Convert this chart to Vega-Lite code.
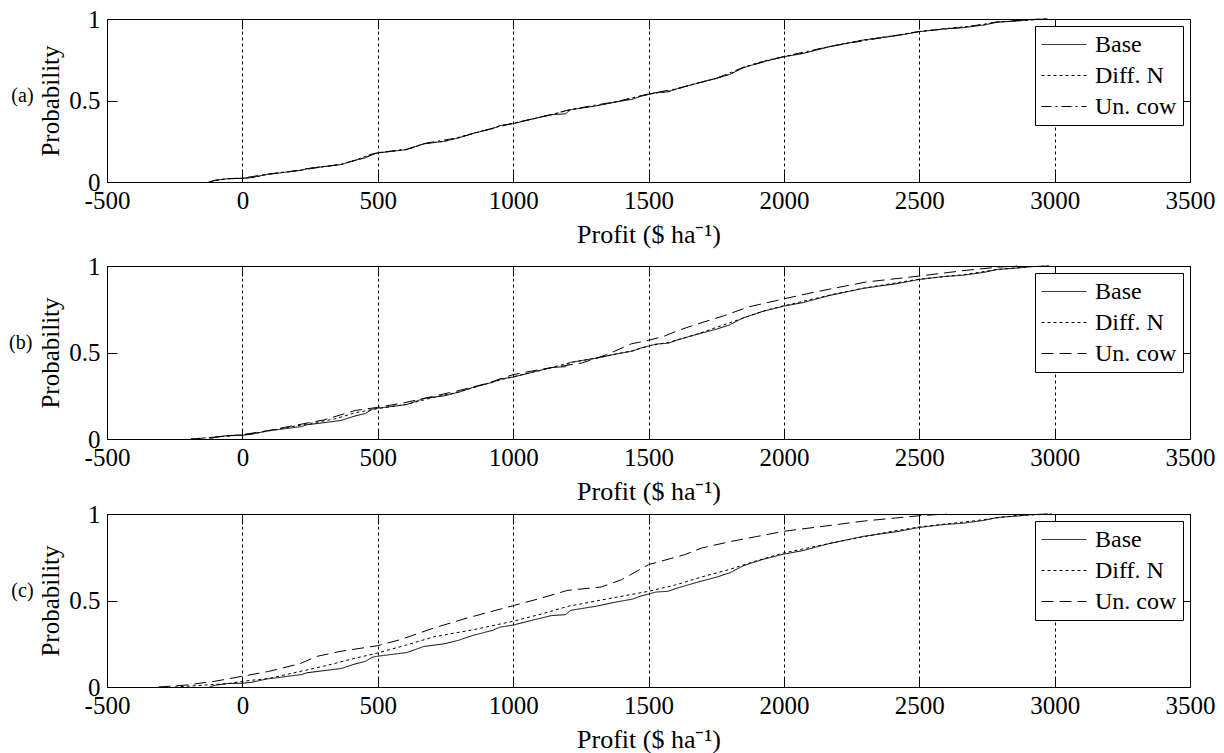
{
  "$schema": "https://vega.github.io/schema/vega-lite/v6.json",
  "background": "white",
  "padding": {"left": 8, "top": 6, "right": 10, "bottom": 0},
  "config": {
    "font": "Liberation Serif",
    "view": {"stroke": "black", "strokeWidth": 1},
    "axis": {"labelFont": "Liberation Serif", "titleFont": "Liberation Serif", "labelFontSize": 25, "titleFontSize": 25, "titleFontWeight": "normal", "labelColor": "black", "titleColor": "black", "domainColor": "black", "tickColor": "black", "tickWidth": 1, "domainWidth": 1, "labelFlush": false, "labelOverlap": false, "grid": false},
    "axisX": {"titleFontSize": 26},
    "legend": {"orient": "top-right", "offset": 7, "padding": 6, "strokeColor": "black", "fillColor": "white", "labelFont": "Liberation Serif", "labelFontSize": 24, "labelColor": "black", "symbolType": "stroke", "symbolSize": 2025, "symbolStrokeWidth": 1, "symbolStrokeColor": "black", "labelOffset": 8, "rowPadding": 6, "clipHeight": 25, "cornerRadius": 0},
    "title": {"font": "Liberation Serif", "fontWeight": "normal", "color": "black"}
  },
  "datasets": {
    "a": [
      {"s":"Base","x":-122,"y":0},{"s":"Base","x":-100,"y":0.01},{"s":"Base","x":-55,"y":0.02},{"s":"Base","x":0,"y":0.022},{"s":"Base","x":34,"y":0.027},{"s":"Base","x":92,"y":0.047},{"s":"Base","x":111,"y":0.05},{"s":"Base","x":219,"y":0.072},{"s":"Base","x":238,"y":0.082},{"s":"Base","x":365,"y":0.107},{"s":"Base","x":416,"y":0.133},{"s":"Base","x":454,"y":0.148},{"s":"Base","x":480,"y":0.172},{"s":"Base","x":500,"y":0.178},{"s":"Base","x":607,"y":0.199},{"s":"Base","x":670,"y":0.234},{"s":"Base","x":747,"y":0.25},{"s":"Base","x":798,"y":0.27},{"s":"Base","x":849,"y":0.297},{"s":"Base","x":925,"y":0.328},{"s":"Base","x":951,"y":0.346},{"s":"Base","x":1000,"y":0.358},{"s":"Base","x":1079,"y":0.389},{"s":"Base","x":1142,"y":0.413},{"s":"Base","x":1193,"y":0.418},{"s":"Base","x":1212,"y":0.443},{"s":"Base","x":1307,"y":0.467},{"s":"Base","x":1383,"y":0.492},{"s":"Base","x":1441,"y":0.508},{"s":"Base","x":1470,"y":0.525},{"s":"Base","x":1500,"y":0.537},{"s":"Base","x":1528,"y":0.549},{"s":"Base","x":1572,"y":0.553},{"s":"Base","x":1602,"y":0.57},{"s":"Base","x":1677,"y":0.604},{"s":"Base","x":1751,"y":0.635},{"s":"Base","x":1800,"y":0.66},{"s":"Base","x":1849,"y":0.7},{"s":"Base","x":1923,"y":0.738},{"s":"Base","x":2000,"y":0.768},{"s":"Base","x":2072,"y":0.789},{"s":"Base","x":2170,"y":0.83},{"s":"Base","x":2294,"y":0.871},{"s":"Base","x":2417,"y":0.898},{"s":"Base","x":2500,"y":0.922},{"s":"Base","x":2590,"y":0.939},{"s":"Base","x":2664,"y":0.947},{"s":"Base","x":2738,"y":0.963},{"s":"Base","x":2788,"y":0.98},{"s":"Base","x":2862,"y":0.988},{"s":"Base","x":2911,"y":0.996},{"s":"Base","x":2975,"y":1},
      {"s":"Diff. N","x":-120,"y":0},{"s":"Diff. N","x":-95,"y":0.01},{"s":"Diff. N","x":-50,"y":0.02},{"s":"Diff. N","x":0,"y":0.023},{"s":"Diff. N","x":40,"y":0.028},{"s":"Diff. N","x":95,"y":0.048},{"s":"Diff. N","x":220,"y":0.073},{"s":"Diff. N","x":240,"y":0.083},{"s":"Diff. N","x":365,"y":0.108},{"s":"Diff. N","x":418,"y":0.134},{"s":"Diff. N","x":480,"y":0.173},{"s":"Diff. N","x":500,"y":0.179},{"s":"Diff. N","x":610,"y":0.2},{"s":"Diff. N","x":672,"y":0.235},{"s":"Diff. N","x":750,"y":0.251},{"s":"Diff. N","x":850,"y":0.298},{"s":"Diff. N","x":925,"y":0.33},{"s":"Diff. N","x":955,"y":0.347},{"s":"Diff. N","x":1000,"y":0.36},{"s":"Diff. N","x":1080,"y":0.39},{"s":"Diff. N","x":1145,"y":0.414},{"s":"Diff. N","x":1212,"y":0.444},{"s":"Diff. N","x":1307,"y":0.468},{"s":"Diff. N","x":1385,"y":0.493},{"s":"Diff. N","x":1470,"y":0.527},{"s":"Diff. N","x":1500,"y":0.539},{"s":"Diff. N","x":1572,"y":0.555},{"s":"Diff. N","x":1677,"y":0.606},{"s":"Diff. N","x":1751,"y":0.637},{"s":"Diff. N","x":1800,"y":0.662},{"s":"Diff. N","x":1849,"y":0.703},{"s":"Diff. N","x":1923,"y":0.741},{"s":"Diff. N","x":2000,"y":0.77},{"s":"Diff. N","x":2072,"y":0.791},{"s":"Diff. N","x":2170,"y":0.832},{"s":"Diff. N","x":2294,"y":0.872},{"s":"Diff. N","x":2417,"y":0.9},{"s":"Diff. N","x":2500,"y":0.923},{"s":"Diff. N","x":2590,"y":0.94},{"s":"Diff. N","x":2738,"y":0.964},{"s":"Diff. N","x":2788,"y":0.981},{"s":"Diff. N","x":2862,"y":0.989},{"s":"Diff. N","x":2975,"y":1},
      {"s":"Un. cow","x":-125,"y":0},{"s":"Un. cow","x":-100,"y":0.011},{"s":"Un. cow","x":-55,"y":0.021},{"s":"Un. cow","x":0,"y":0.024},{"s":"Un. cow","x":92,"y":0.048},{"s":"Un. cow","x":219,"y":0.074},{"s":"Un. cow","x":365,"y":0.109},{"s":"Un. cow","x":454,"y":0.15},{"s":"Un. cow","x":500,"y":0.18},{"s":"Un. cow","x":607,"y":0.201},{"s":"Un. cow","x":670,"y":0.236},{"s":"Un. cow","x":798,"y":0.272},{"s":"Un. cow","x":925,"y":0.33},{"s":"Un. cow","x":1000,"y":0.36},{"s":"Un. cow","x":1142,"y":0.415},{"s":"Un. cow","x":1212,"y":0.445},{"s":"Un. cow","x":1383,"y":0.494},{"s":"Un. cow","x":1500,"y":0.54},{"s":"Un. cow","x":1602,"y":0.572},{"s":"Un. cow","x":1751,"y":0.637},{"s":"Un. cow","x":1849,"y":0.702},{"s":"Un. cow","x":2000,"y":0.77},{"s":"Un. cow","x":2170,"y":0.832},{"s":"Un. cow","x":2417,"y":0.9},{"s":"Un. cow","x":2500,"y":0.924},{"s":"Un. cow","x":2664,"y":0.949},{"s":"Un. cow","x":2788,"y":0.982},{"s":"Un. cow","x":2911,"y":0.997},{"s":"Un. cow","x":2970,"y":1}
    ],
    "b": [
      {"s":"Base","x":-122,"y":0},{"s":"Base","x":-100,"y":0.01},{"s":"Base","x":-55,"y":0.02},{"s":"Base","x":0,"y":0.022},{"s":"Base","x":34,"y":0.027},{"s":"Base","x":92,"y":0.047},{"s":"Base","x":111,"y":0.05},{"s":"Base","x":219,"y":0.072},{"s":"Base","x":238,"y":0.082},{"s":"Base","x":365,"y":0.107},{"s":"Base","x":416,"y":0.133},{"s":"Base","x":454,"y":0.148},{"s":"Base","x":480,"y":0.172},{"s":"Base","x":500,"y":0.178},{"s":"Base","x":607,"y":0.199},{"s":"Base","x":670,"y":0.234},{"s":"Base","x":747,"y":0.25},{"s":"Base","x":798,"y":0.27},{"s":"Base","x":849,"y":0.297},{"s":"Base","x":925,"y":0.328},{"s":"Base","x":951,"y":0.346},{"s":"Base","x":1000,"y":0.358},{"s":"Base","x":1079,"y":0.389},{"s":"Base","x":1142,"y":0.413},{"s":"Base","x":1193,"y":0.418},{"s":"Base","x":1212,"y":0.443},{"s":"Base","x":1307,"y":0.467},{"s":"Base","x":1383,"y":0.492},{"s":"Base","x":1441,"y":0.508},{"s":"Base","x":1470,"y":0.525},{"s":"Base","x":1500,"y":0.537},{"s":"Base","x":1528,"y":0.549},{"s":"Base","x":1572,"y":0.553},{"s":"Base","x":1602,"y":0.57},{"s":"Base","x":1677,"y":0.604},{"s":"Base","x":1751,"y":0.635},{"s":"Base","x":1800,"y":0.66},{"s":"Base","x":1849,"y":0.7},{"s":"Base","x":1923,"y":0.738},{"s":"Base","x":2000,"y":0.768},{"s":"Base","x":2072,"y":0.789},{"s":"Base","x":2170,"y":0.83},{"s":"Base","x":2294,"y":0.871},{"s":"Base","x":2417,"y":0.898},{"s":"Base","x":2500,"y":0.922},{"s":"Base","x":2590,"y":0.939},{"s":"Base","x":2664,"y":0.947},{"s":"Base","x":2738,"y":0.963},{"s":"Base","x":2788,"y":0.98},{"s":"Base","x":2862,"y":0.988},{"s":"Base","x":2911,"y":0.996},{"s":"Base","x":2975,"y":1},
      {"s":"Diff. N","x":-190,"y":0},{"s":"Diff. N","x":-140,"y":0.006},{"s":"Diff. N","x":-80,"y":0.014},{"s":"Diff. N","x":0,"y":0.023},{"s":"Diff. N","x":73,"y":0.04},{"s":"Diff. N","x":136,"y":0.058},{"s":"Diff. N","x":239,"y":0.087},{"s":"Diff. N","x":341,"y":0.116},{"s":"Diff. N","x":417,"y":0.152},{"s":"Diff. N","x":500,"y":0.176},{"s":"Diff. N","x":607,"y":0.2},{"s":"Diff. N","x":700,"y":0.238},{"s":"Diff. N","x":800,"y":0.272},{"s":"Diff. N","x":925,"y":0.33},{"s":"Diff. N","x":1000,"y":0.36},{"s":"Diff. N","x":1100,"y":0.396},{"s":"Diff. N","x":1212,"y":0.442},{"s":"Diff. N","x":1307,"y":0.468},{"s":"Diff. N","x":1441,"y":0.51},{"s":"Diff. N","x":1500,"y":0.538},{"s":"Diff. N","x":1578,"y":0.56},{"s":"Diff. N","x":1683,"y":0.608},{"s":"Diff. N","x":1800,"y":0.672},{"s":"Diff. N","x":1931,"y":0.743},{"s":"Diff. N","x":2000,"y":0.77},{"s":"Diff. N","x":2170,"y":0.832},{"s":"Diff. N","x":2294,"y":0.872},{"s":"Diff. N","x":2500,"y":0.924},{"s":"Diff. N","x":2664,"y":0.95},{"s":"Diff. N","x":2788,"y":0.98},{"s":"Diff. N","x":2911,"y":0.996},{"s":"Diff. N","x":2980,"y":1},
      {"s":"Un. cow","x":-190,"y":0},{"s":"Un. cow","x":-120,"y":0.008},{"s":"Un. cow","x":-50,"y":0.018},{"s":"Un. cow","x":0,"y":0.025},{"s":"Un. cow","x":100,"y":0.05},{"s":"Un. cow","x":188,"y":0.077},{"s":"Un. cow","x":300,"y":0.11},{"s":"Un. cow","x":417,"y":0.165},{"s":"Un. cow","x":500,"y":0.183},{"s":"Un. cow","x":600,"y":0.21},{"s":"Un. cow","x":700,"y":0.245},{"s":"Un. cow","x":800,"y":0.28},{"s":"Un. cow","x":900,"y":0.32},{"s":"Un. cow","x":1000,"y":0.372},{"s":"Un. cow","x":1100,"y":0.402},{"s":"Un. cow","x":1255,"y":0.44},{"s":"Un. cow","x":1350,"y":0.49},{"s":"Un. cow","x":1436,"y":0.55},{"s":"Un. cow","x":1500,"y":0.57},{"s":"Un. cow","x":1559,"y":0.595},{"s":"Un. cow","x":1609,"y":0.627},{"s":"Un. cow","x":1683,"y":0.666},{"s":"Un. cow","x":1782,"y":0.714},{"s":"Un. cow","x":1868,"y":0.763},{"s":"Un. cow","x":2000,"y":0.81},{"s":"Un. cow","x":2116,"y":0.85},{"s":"Un. cow","x":2302,"y":0.907},{"s":"Un. cow","x":2500,"y":0.942},{"s":"Un. cow","x":2673,"y":0.975},{"s":"Un. cow","x":2797,"y":0.994},{"s":"Un. cow","x":2860,"y":1}
    ],
    "c": [
      {"s":"Base","x":-122,"y":0},{"s":"Base","x":-100,"y":0.01},{"s":"Base","x":-55,"y":0.02},{"s":"Base","x":0,"y":0.022},{"s":"Base","x":34,"y":0.027},{"s":"Base","x":92,"y":0.047},{"s":"Base","x":111,"y":0.05},{"s":"Base","x":219,"y":0.072},{"s":"Base","x":238,"y":0.082},{"s":"Base","x":365,"y":0.107},{"s":"Base","x":416,"y":0.133},{"s":"Base","x":454,"y":0.148},{"s":"Base","x":480,"y":0.172},{"s":"Base","x":500,"y":0.178},{"s":"Base","x":607,"y":0.199},{"s":"Base","x":670,"y":0.234},{"s":"Base","x":747,"y":0.25},{"s":"Base","x":798,"y":0.27},{"s":"Base","x":849,"y":0.297},{"s":"Base","x":925,"y":0.328},{"s":"Base","x":951,"y":0.346},{"s":"Base","x":1000,"y":0.358},{"s":"Base","x":1079,"y":0.389},{"s":"Base","x":1142,"y":0.413},{"s":"Base","x":1193,"y":0.418},{"s":"Base","x":1212,"y":0.443},{"s":"Base","x":1307,"y":0.467},{"s":"Base","x":1383,"y":0.492},{"s":"Base","x":1441,"y":0.508},{"s":"Base","x":1470,"y":0.525},{"s":"Base","x":1500,"y":0.537},{"s":"Base","x":1528,"y":0.549},{"s":"Base","x":1572,"y":0.553},{"s":"Base","x":1602,"y":0.57},{"s":"Base","x":1677,"y":0.604},{"s":"Base","x":1751,"y":0.635},{"s":"Base","x":1800,"y":0.66},{"s":"Base","x":1849,"y":0.7},{"s":"Base","x":1923,"y":0.738},{"s":"Base","x":2000,"y":0.768},{"s":"Base","x":2072,"y":0.789},{"s":"Base","x":2170,"y":0.83},{"s":"Base","x":2294,"y":0.871},{"s":"Base","x":2417,"y":0.898},{"s":"Base","x":2500,"y":0.922},{"s":"Base","x":2590,"y":0.939},{"s":"Base","x":2664,"y":0.947},{"s":"Base","x":2738,"y":0.963},{"s":"Base","x":2788,"y":0.98},{"s":"Base","x":2862,"y":0.988},{"s":"Base","x":2911,"y":0.996},{"s":"Base","x":2975,"y":1},
      {"s":"Diff. N","x":-250,"y":0},{"s":"Diff. N","x":-150,"y":0.01},{"s":"Diff. N","x":-50,"y":0.02},{"s":"Diff. N","x":0,"y":0.033},{"s":"Diff. N","x":100,"y":0.05},{"s":"Diff. N","x":213,"y":0.09},{"s":"Diff. N","x":300,"y":0.12},{"s":"Diff. N","x":400,"y":0.16},{"s":"Diff. N","x":500,"y":0.197},{"s":"Diff. N","x":600,"y":0.24},{"s":"Diff. N","x":707,"y":0.29},{"s":"Diff. N","x":850,"y":0.33},{"s":"Diff. N","x":1000,"y":0.38},{"s":"Diff. N","x":1100,"y":0.42},{"s":"Diff. N","x":1202,"y":0.466},{"s":"Diff. N","x":1350,"y":0.51},{"s":"Diff. N","x":1500,"y":0.553},{"s":"Diff. N","x":1600,"y":0.59},{"s":"Diff. N","x":1696,"y":0.636},{"s":"Diff. N","x":1800,"y":0.68},{"s":"Diff. N","x":1900,"y":0.73},{"s":"Diff. N","x":2000,"y":0.775},{"s":"Diff. N","x":2200,"y":0.84},{"s":"Diff. N","x":2400,"y":0.9},{"s":"Diff. N","x":2500,"y":0.925},{"s":"Diff. N","x":2700,"y":0.96},{"s":"Diff. N","x":2850,"y":0.99},{"s":"Diff. N","x":2990,"y":1},
      {"s":"Un. cow","x":-310,"y":0},{"s":"Un. cow","x":-200,"y":0.012},{"s":"Un. cow","x":-152,"y":0.023},{"s":"Un. cow","x":-102,"y":0.033},{"s":"Un. cow","x":0,"y":0.062},{"s":"Un. cow","x":97,"y":0.09},{"s":"Un. cow","x":213,"y":0.135},{"s":"Un. cow","x":275,"y":0.177},{"s":"Un. cow","x":362,"y":0.206},{"s":"Un. cow","x":500,"y":0.239},{"s":"Un. cow","x":584,"y":0.274},{"s":"Un. cow","x":707,"y":0.341},{"s":"Un. cow","x":831,"y":0.399},{"s":"Un. cow","x":1000,"y":0.47},{"s":"Un. cow","x":1104,"y":0.514},{"s":"Un. cow","x":1202,"y":0.559},{"s":"Un. cow","x":1326,"y":0.578},{"s":"Un. cow","x":1400,"y":0.62},{"s":"Un. cow","x":1500,"y":0.707},{"s":"Un. cow","x":1634,"y":0.765},{"s":"Un. cow","x":1696,"y":0.803},{"s":"Un. cow","x":1800,"y":0.84},{"s":"Un. cow","x":1900,"y":0.87},{"s":"Un. cow","x":2000,"y":0.9},{"s":"Un. cow","x":2100,"y":0.92},{"s":"Un. cow","x":2200,"y":0.94},{"s":"Un. cow","x":2300,"y":0.96},{"s":"Un. cow","x":2400,"y":0.975},{"s":"Un. cow","x":2500,"y":0.99},{"s":"Un. cow","x":2600,"y":1}
    ]
  },
  "bounds": "flush",
  "spacing": 84,
  "resolve": {"scale": {"strokeDash": "independent"}, "legend": {"strokeDash": "independent"}},
  "vconcat": [
    {
      "title": {"text": "(a)", "orient": "left", "angle": 0, "align": "right", "baseline": "middle", "fontSize": 20, "offset": -17, "dy": -5},
      "width": 1083, "height": 163,
      "data": {"name": "a"},
      "resolve": {"axis": {"x": "independent", "y": "independent"}},
      "layer": [
        {
          "mark": {"type": "line", "color": "black", "strokeWidth": 1},
          "encoding": {
            "x": {"field": "x", "type": "quantitative", "scale": {"domain": [-500, 3500], "nice": false, "zero": false},
              "axis": {"title": "Profit ($ ha⁻¹)", "values": [-500, 0, 500, 1000, 1500, 2000, 2500, 3000, 3500], "labelExpr": "'' + datum.value", "grid": true, "gridColor": "black", "gridDash": [3, 3], "gridOpacity": 1, "gridWidth": 1, "tickSize": -10, "labelPadding": 16, "titlePadding": 8}},
            "y": {"field": "y", "type": "quantitative", "scale": {"domain": [0, 1], "nice": false},
              "axis": {"title": "Probability", "values": [0, 0.5, 1], "format": "~g", "tickSize": -10, "labelPadding": 17, "titlePadding": 5}},
            "strokeDash": {"field": "s", "type": "nominal", "scale": {"domain": ["Base", "Diff. N", "Un. cow"], "range": [[1, 0], [3, 3], [10, 4, 2, 4]]}, "legend": {"title": null}}
          }
        },
        {
          "mark": {"type": "point", "opacity": 0},
          "encoding": {
            "x": {"field": "x", "type": "quantitative", "axis": {"orient": "top", "labels": false, "title": null, "domain": false, "values": [-500, 0, 500, 1000, 1500, 2000, 2500, 3000, 3500], "tickSize": -10}},
            "y": {"field": "y", "type": "quantitative", "axis": {"orient": "right", "labels": false, "title": null, "domain": false, "values": [0, 0.5, 1], "tickSize": -10}}
          }
        }
      ]
    },
    {
      "bounds": "flush",
      "spacing": 75,
      "resolve": {"scale": {"strokeDash": "independent"}, "legend": {"strokeDash": "independent"}},
      "vconcat": [
        {
          "title": {"text": "(b)", "orient": "left", "angle": 0, "align": "right", "baseline": "middle", "fontSize": 20, "offset": -17, "dy": -10},
          "width": 1083, "height": 173,
          "data": {"name": "b"},
          "resolve": {"axis": {"x": "independent", "y": "independent"}},
          "layer": [
            {
              "mark": {"type": "line", "color": "black", "strokeWidth": 1},
              "encoding": {
                "x": {"field": "x", "type": "quantitative", "scale": {"domain": [-500, 3500], "nice": false, "zero": false},
                  "axis": {"title": "Profit ($ ha⁻¹)", "values": [-500, 0, 500, 1000, 1500, 2000, 2500, 3000, 3500], "labelExpr": "'' + datum.value", "grid": true, "gridColor": "black", "gridDash": [3, 3], "gridOpacity": 1, "gridWidth": 1, "tickSize": -10, "labelPadding": 16, "titlePadding": 8}},
                "y": {"field": "y", "type": "quantitative", "scale": {"domain": [0, 1], "nice": false},
                  "axis": {"title": "Probability", "values": [0, 0.5, 1], "format": "~g", "tickSize": -10, "labelPadding": 17, "titlePadding": 5}},
                "strokeDash": {"field": "s", "type": "nominal", "scale": {"domain": ["Base", "Diff. N", "Un. cow"], "range": [[1, 0], [3, 3], [12, 6]]}, "legend": {"title": null}}
              }
            },
            {
              "mark": {"type": "point", "opacity": 0},
              "encoding": {
                "x": {"field": "x", "type": "quantitative", "axis": {"orient": "top", "labels": false, "title": null, "domain": false, "values": [-500, 0, 500, 1000, 1500, 2000, 2500, 3000, 3500], "tickSize": -10}},
                "y": {"field": "y", "type": "quantitative", "axis": {"orient": "right", "labels": false, "title": null, "domain": false, "values": [0, 0.5, 1], "tickSize": -10}}
              }
            }
          ]
        },
        {
          "title": {"text": "(c)", "orient": "left", "angle": 0, "align": "right", "baseline": "middle", "fontSize": 20, "offset": -17, "dy": -10},
          "width": 1083, "height": 173,
          "data": {"name": "c"},
          "resolve": {"axis": {"x": "independent", "y": "independent"}},
          "layer": [
            {
              "mark": {"type": "line", "color": "black", "strokeWidth": 1},
              "encoding": {
                "x": {"field": "x", "type": "quantitative", "scale": {"domain": [-500, 3500], "nice": false, "zero": false},
                  "axis": {"title": "Profit ($ ha⁻¹)", "values": [-500, 0, 500, 1000, 1500, 2000, 2500, 3000, 3500], "labelExpr": "'' + datum.value", "grid": true, "gridColor": "black", "gridDash": [3, 3], "gridOpacity": 1, "gridWidth": 1, "tickSize": -10, "labelPadding": 16, "titlePadding": 8}},
                "y": {"field": "y", "type": "quantitative", "scale": {"domain": [0, 1], "nice": false},
                  "axis": {"title": "Probability", "values": [0, 0.5, 1], "format": "~g", "tickSize": -10, "labelPadding": 17, "titlePadding": 5}},
                "strokeDash": {"field": "s", "type": "nominal", "scale": {"domain": ["Base", "Diff. N", "Un. cow"], "range": [[1, 0], [3, 3], [12, 6]]}, "legend": {"title": null}}
              }
            },
            {
              "mark": {"type": "point", "opacity": 0},
              "encoding": {
                "x": {"field": "x", "type": "quantitative", "axis": {"orient": "top", "labels": false, "title": null, "domain": false, "values": [-500, 0, 500, 1000, 1500, 2000, 2500, 3000, 3500], "tickSize": -10}},
                "y": {"field": "y", "type": "quantitative", "axis": {"orient": "right", "labels": false, "title": null, "domain": false, "values": [0, 0.5, 1], "tickSize": -10}}
              }
            }
          ]
        }
      ]
    }
  ]
}
